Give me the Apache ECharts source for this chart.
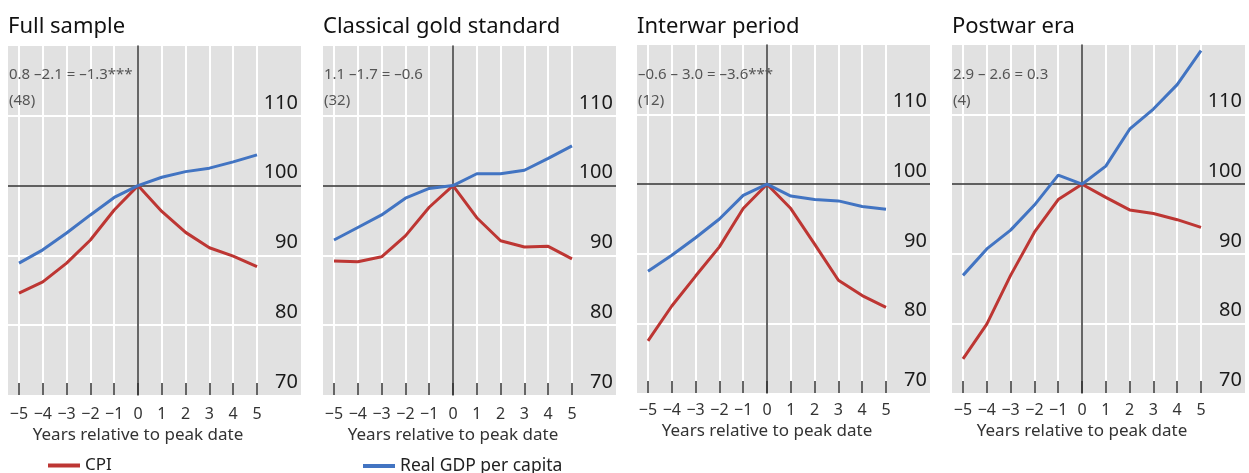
<!DOCTYPE html>
<html>
<head>
<meta charset="utf-8">
<script src="https://cdn.jsdelivr.net/npm/echarts@6/dist/echarts.min.js"></script>
<style>
  html, body { margin: 0; padding: 0; background: #fff; }
  #chart { width: 1249px; height: 473px; }
</style>
</head>
<body>
<div id="chart"></div>
<script>
// years relative to peak date
const years = [-5, -4, -3, -2, -1, 0, 1, 2, 3, 4, 5];

const panelTitles = ['Full sample', 'Classical gold standard', 'Interwar period', 'Postwar era'];
const panelNotes = ['0.8 –2.1 = –1.3***', '1.1 –1.7 = –0.6', '–0.6 – 3.0 = –3.6***', '2.9 – 2.6 = 0.3'];
const panelCounts = ['(48)', '(32)', '(12)', '(4)'];

// CPI, index = 100 at peak
const cpiFull     = [84.6, 86.2, 88.9, 92.2, 96.5, 100, 96.3, 93.3, 91.1, 89.9, 88.4];
const cpiGold     = [89.2, 89.1, 89.8, 92.8, 96.9, 100, 95.4, 92.1, 91.2, 91.3, 89.5];
const cpiInterwar = [77.5, 82.5, 86.8, 91.0, 96.5, 100, 96.5, 91.4, 86.2, 84.0, 82.3];
const cpiPostwar  = [74.9, 79.9, 86.9, 93.1, 97.8, 100, 98.1, 96.3, 95.8, 94.9, 93.8];

// Real GDP per capita, index = 100 at peak
const gdpFull     = [88.9, 90.8, 93.2, 95.8, 98.3, 100, 101.2, 102.0, 102.5, 103.4, 104.4];
const gdpGold     = [92.2, 94.0, 95.8, 98.2, 99.6, 100, 101.7, 101.7, 102.2, 103.9, 105.7];
const gdpInterwar = [87.5, 89.8, 92.3, 95.0, 98.4, 100, 98.3, 97.8, 97.6, 96.8, 96.4];
const gdpPostwar  = [86.9, 90.7, 93.4, 97.0, 101.3, 100, 102.6, 107.9, 110.8, 114.3, 119.2];

const cpiSeries = [cpiFull, cpiGold, cpiInterwar, cpiPostwar];
const gdpSeries = [gdpFull, gdpGold, gdpInterwar, gdpPostwar];

const yTicks = [70, 80, 90, 100, 110];
const gridValues = [80, 90, 110]; // white horizontal gridlines
const baseValue = 100;            // black reference line

const RED = '#bd3633';
const BLUE = '#4274c2';
const BG = '#e1e1e1';
const FONT = '"Noto Sans", "Open Sans", sans-serif';

const bgLeft = [8, 323, 637, 952];
const bgWidth = 293;
const tops = [46, 46, 45, 45];
const heights = [349, 349, 348, 348];

const pairs = (vals) => years.map((y, i) => [y, vals[i]]);

const grid = [], xAxis = [], yAxis = [], series = [], title = [];

for (let p = 0; p < 4; p++) {
  const bgIdx = p * 2, dIdx = p * 2 + 1;
  // grey background panel with right labels
  grid.push({ left: bgLeft[p], top: tops[p], width: bgWidth, height: heights[p],
    show: true, backgroundColor: BG, borderWidth: 0 });
  // data area
  grid.push({ left: bgLeft[p] + 11, top: tops[p], width: 238, height: heights[p] });

  xAxis.push({ gridIndex: bgIdx, type: 'value', min: 0, max: 1, show: false });
  yAxis.push({
    gridIndex: bgIdx, type: 'value', min: 70, max: 120, interval: 10, position: 'right',
    axisLine: { show: false }, axisTick: { show: false }, splitLine: { show: false },
    axisLabel: {
      inside: true, margin: 3, fontSize: 20, color: '#1a1a1a', fontFamily: FONT,
      verticalAlign: 'bottom', padding: [0, 0, 3, 0],
      formatter: v => yTicks.includes(v) ? String(v) : ''
    }
  });

  xAxis.push({
    gridIndex: dIdx, type: 'value', min: -5, max: 5, interval: 1,
    name: 'Years relative to peak date', nameLocation: 'middle', nameGap: p < 2 ? 32 : 29,
    nameTextStyle: { fontSize: 17, color: '#333', fontFamily: FONT },
    axisLine: { show: false, onZero: false },
    axisTick: { show: true, inside: true, length: 12, lineStyle: { color: '#333', width: 1.5 } },
    splitLine: { show: true, lineStyle: { color: '#fff', width: 2 } },
    axisLabel: { fontSize: 16, color: '#333', margin: p < 2 ? 11 : 9, fontFamily: FONT,
      formatter: v => v < 0 ? '−' + Math.abs(v) : String(v) }
  });
  yAxis.push({
    gridIndex: dIdx, type: 'value', min: 70, max: 120, z: 2,
    axisLine: { show: true, onZero: true, lineStyle: { color: '#333', width: 1.5 } },
    axisTick: { show: false }, axisLabel: { show: false }, splitLine: { show: false }
  });

  // horizontal gridlines and the 100 reference line across the whole panel
  series.push({
    type: 'line', xAxisIndex: bgIdx, yAxisIndex: bgIdx, data: [], silent: true, z: 1,
    markLine: { symbol: 'none', silent: true, label: { show: false }, animation: false, z: 1,
      data: gridValues.map(v => ({ yAxis: v, lineStyle: { color: '#fff', width: 2, type: 'solid' } }))
        .concat([{ yAxis: baseValue, lineStyle: { color: '#333', width: 1.5, type: 'solid' } }]) }
  });
  series.push({
    name: 'CPI', type: 'line', xAxisIndex: dIdx, yAxisIndex: dIdx,
    data: pairs(cpiSeries[p]), showSymbol: false, color: RED,
    lineStyle: { width: 3, color: RED }, z: 3
  });
  series.push({
    name: 'Real GDP per capita', type: 'line', xAxisIndex: dIdx, yAxisIndex: dIdx,
    data: pairs(gdpSeries[p]), showSymbol: false, color: BLUE,
    lineStyle: { width: 3, color: BLUE }, z: 3
  });

  title.push({
    text: panelTitles[p], left: bgLeft[p], top: 16, padding: 0,
    textStyle: { fontSize: 22, fontWeight: 'normal', color: '#111', fontFamily: FONT }
  });
  title.push({
    text: panelNotes[p], subtext: panelCounts[p], left: bgLeft[p] + 1, top: 67, padding: 0, itemGap: 11,
    textStyle: { fontSize: 15, fontWeight: 'normal', color: '#555', fontFamily: FONT },
    subtextStyle: { fontSize: 15, color: '#555', fontFamily: FONT }
  });
}

const chart = echarts.init(document.getElementById('chart'));
chart.setOption({
  backgroundColor: '#fff',
  animation: false,
  title: title,
  legend: [
    { data: ['CPI'], left: 43, top: 452, icon: 'rect', itemWidth: 32, itemHeight: 4, itemGap: 10,
      textStyle: { fontSize: 17, color: '#222', fontFamily: FONT } },
    { data: ['Real GDP per capita'], left: 358, top: 452, icon: 'rect', itemWidth: 32, itemHeight: 4,
      textStyle: { fontSize: 17.5, color: '#222', fontFamily: FONT } }
  ],
  grid: grid,
  xAxis: xAxis,
  yAxis: yAxis,
  series: series
});
</script>
</body>
</html>
